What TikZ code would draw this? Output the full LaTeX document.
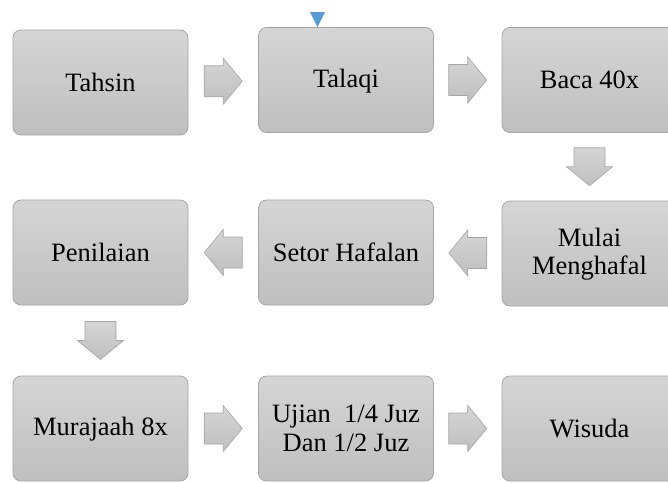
\documentclass[tikz,border=0pt]{standalone}
\usepackage{fontspec}
\setmainfont{Liberation Serif}
\usetikzlibrary{calc}
\newcommand\boxstrut{\rule[-3pt]{0pt}{23pt}}
\tikzset{
  x=1pt, y=-1pt,
  stepbox/.style={rectangle, rounded corners=8pt, draw=boxline, line width=0.8pt,
    top color=boxtop, bottom color=boxbot, minimum width=175pt, minimum height=105pt,
    align=center, inner sep=2pt, font=\fontsize{26.5}{28.5}\selectfont, text=black},
  blockarrow/.pic={
    \draw[draw=boxline, line width=0.6pt, top color=boxtop, bottom color=boxbot]
      (-19,-15.5) -- (0,-15.5) -- (0,-23) -- (19,0) -- (0,23) -- (0,15.5) -- (-19,15.5) -- cycle;
  }
}
\definecolor{boxtop}{HTML}{D5D5D5}
\definecolor{boxbot}{HTML}{BFBFBF}
\definecolor{boxline}{HTML}{A5A5A5}
\definecolor{selblue}{HTML}{5B9BD5}
\begin{document}
\begin{tikzpicture}
\useasboundingbox (0,0) rectangle (668,482);
\begin{scope}
\clip (0,0) rectangle (668,482);
\node[stepbox] (tahsin) at (100.5,82.5) {\boxstrut Tahsin};
\node[stepbox] (talaqi) at (346,80) {\boxstrut Talaqi};
\node[stepbox] (baca) at (589.5,80) {\boxstrut Baca 40x};
\node[stepbox] (penilaian) at (100.5,252.5) {\boxstrut Penilaian};
\node[stepbox] (setor) at (346,252.5) {\boxstrut Setor Hafalan};
\node[stepbox] (mulai) at (589.5,253.5) {\boxstrut Mulai\\\boxstrut Menghafal};
\node[stepbox] (murajaah) at (100.5,428.5) {\boxstrut Murajaah 8x};
\node[stepbox] (ujian) at (346,428.5) {\boxstrut Ujian\ \ 1/4 Juz\\\boxstrut Dan 1/2 Juz};
\node[stepbox] (wisuda) at (589.5,428.5) {\boxstrut Wisuda};
\end{scope}
\pic at ($(tahsin.east)!0.5!(talaqi.west)$) {blockarrow};
\pic at ($(talaqi.east)!0.5!(baca.west)$) {blockarrow};
\pic[rotate=-90] at ($(baca.south)!0.5!(mulai.north)$) {blockarrow};
\pic[rotate=180] at ($(mulai.west)!0.5!(setor.east)$) {blockarrow};
\pic[rotate=180] at ($(setor.west)!0.5!(penilaian.east)$) {blockarrow};
\pic[rotate=-90] at ($(penilaian.south)!0.5!(murajaah.north)$) {blockarrow};
\pic at ($(murajaah.east)!0.5!(ujian.west)$) {blockarrow};
\pic at ($(ujian.east)!0.5!(wisuda.west)$) {blockarrow};
\coordinate (seltip) at ($(talaqi.north)+(-28.5,0)$);
\fill[selblue] (seltip) -- ++(-7.5,-15) -- ++(15,0) -- cycle;
\end{tikzpicture}
\end{document}
